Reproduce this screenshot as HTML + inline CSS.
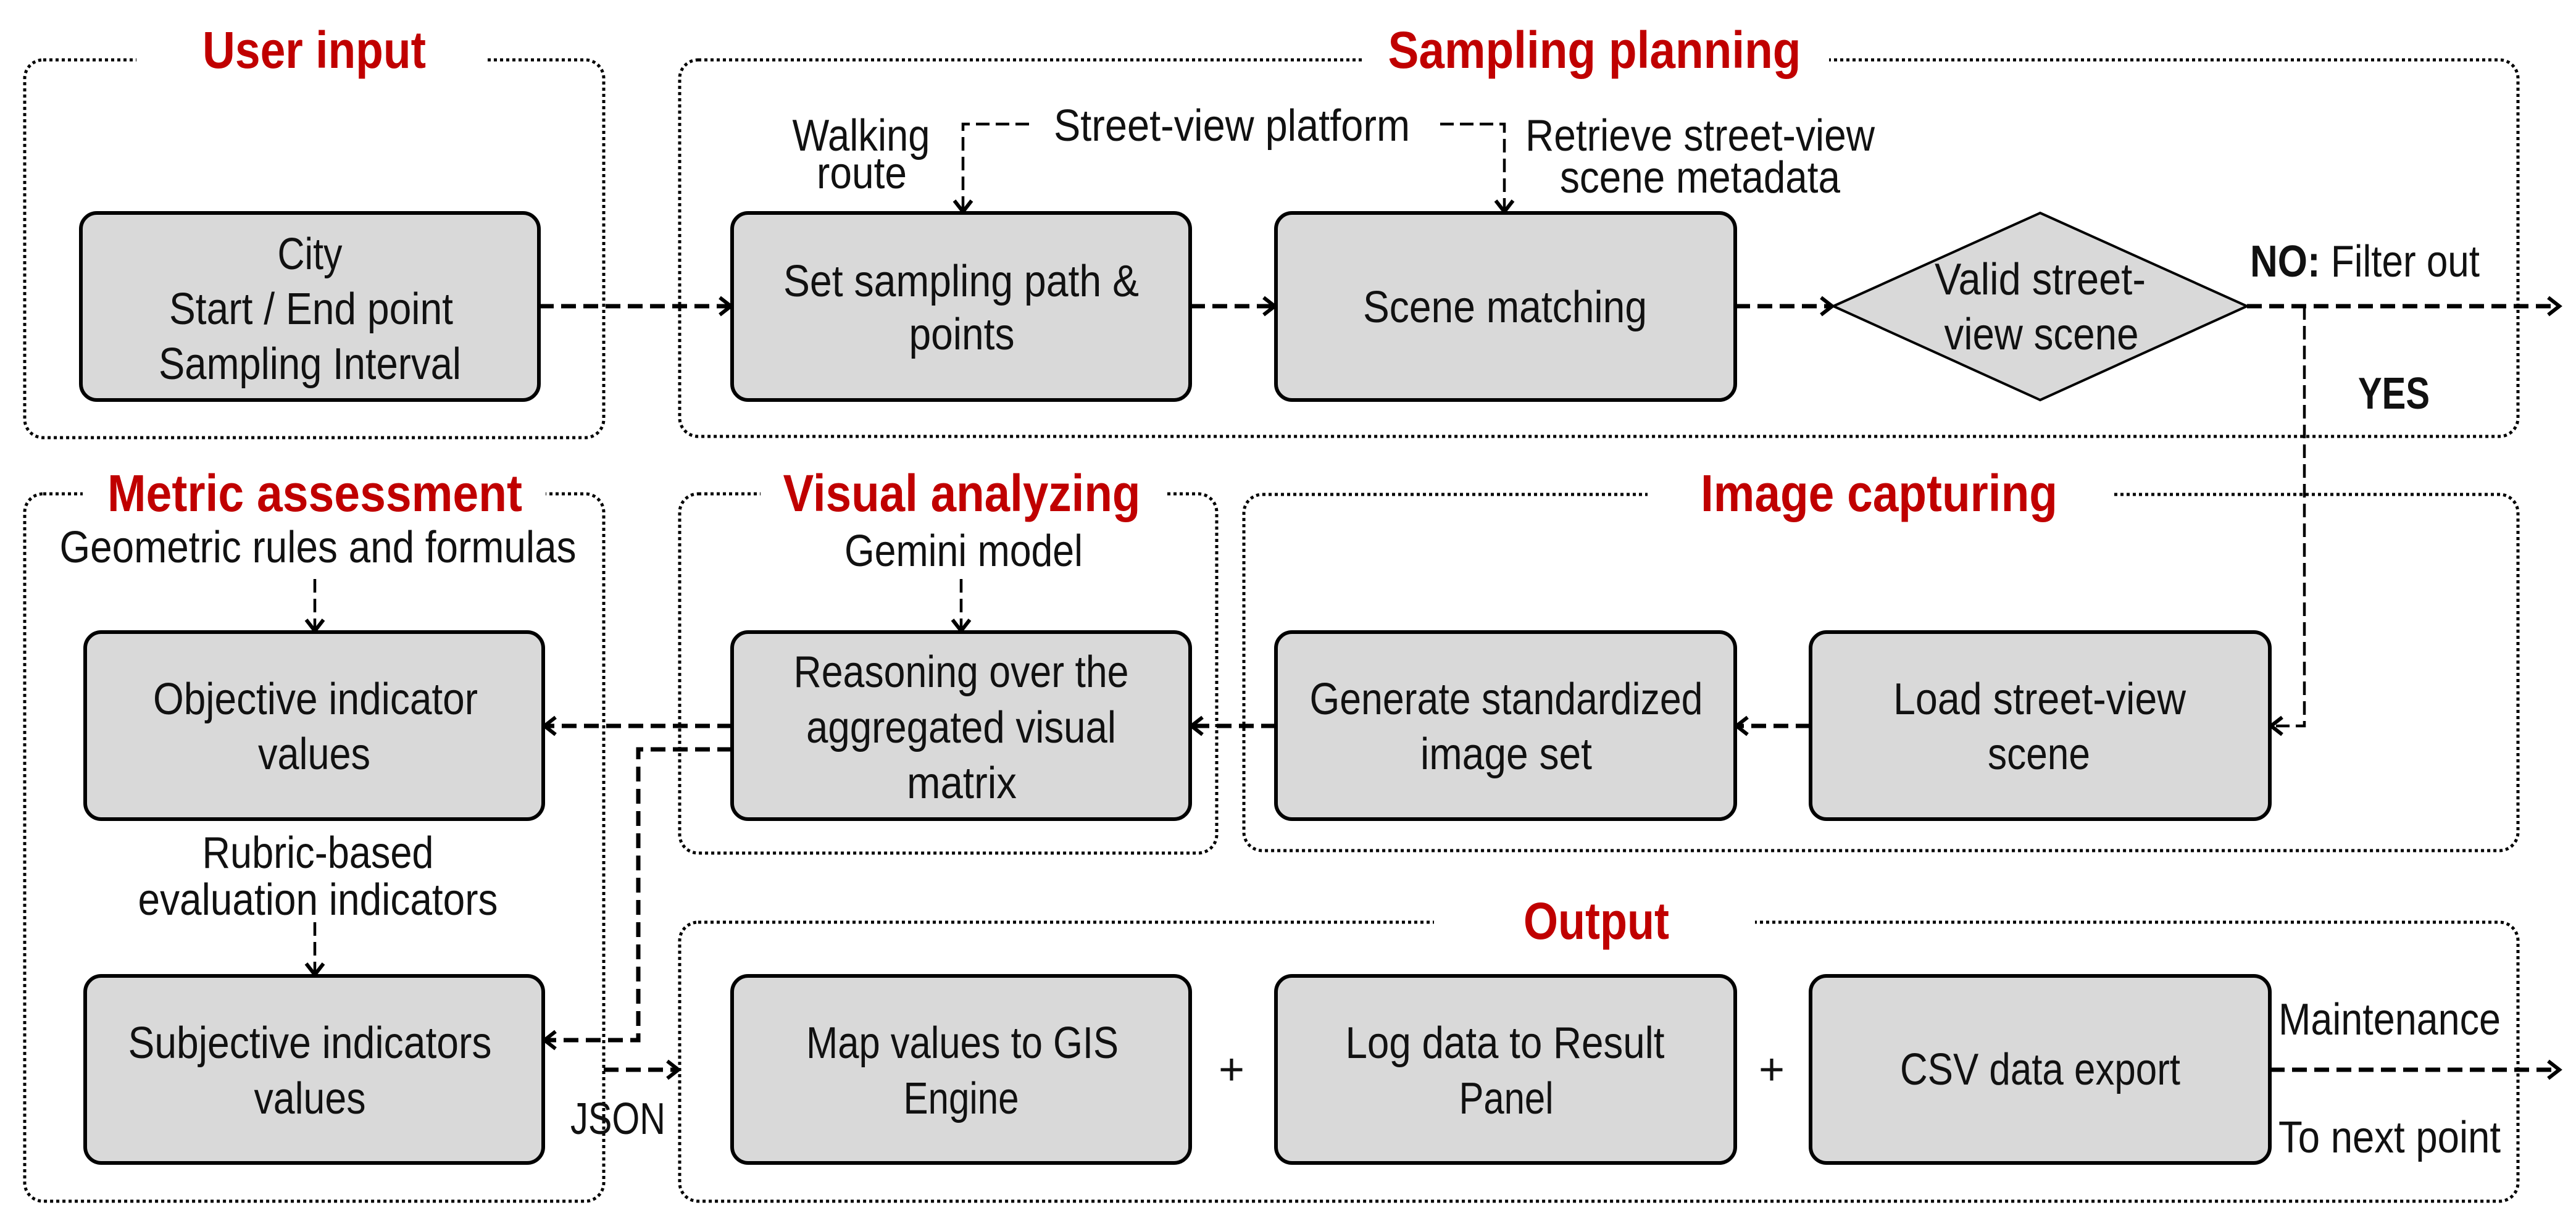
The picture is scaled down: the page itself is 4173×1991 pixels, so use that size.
<!DOCTYPE html>
<html><head><meta charset="utf-8"><style>
html,body{margin:0;padding:0;background:#fff;}
svg{display:block;}
text{font-family:"Liberation Sans",Arial,sans-serif;fill:#111;}
.t{font-size:72px;}
.h{font-size:84px;font-weight:bold;fill:#c00000;}
.box{fill:#d9d9d9;stroke:#000;stroke-width:6;}
.fr{fill:none;stroke:#000;stroke-width:5;stroke-dasharray:5 5;}
.c{fill:none;stroke:#000;stroke-width:7;stroke-dasharray:24 12;}
.c2{fill:none;stroke:#000;stroke-width:4.5;stroke-dasharray:22 10;}
.wb{fill:#fff;}
</style></head><body>
<svg width="4173" height="1991" viewBox="0 0 4173 1991" xmlns="http://www.w3.org/2000/svg">
<defs>
<marker id="a" markerUnits="userSpaceOnUse" markerWidth="40" markerHeight="40" refX="30" refY="20" orient="auto">
<path d="M12,6 L30,20 L12,34" fill="none" stroke="#000" stroke-width="6"/>
</marker>
</defs>
<rect width="4173" height="1991" fill="#fff"/>

<!-- frames -->
<rect class="fr" x="40" y="97" width="938" height="612" rx="30"/>
<rect class="fr" x="1101" y="97" width="2978" height="610" rx="30"/>
<rect class="fr" x="40" y="800" width="938" height="1146" rx="30"/>
<rect class="fr" x="1101" y="800" width="870" height="582" rx="30"/>
<rect class="fr" x="2015" y="801" width="2064" height="577" rx="30"/>
<rect class="fr" x="1101" y="1494" width="2978" height="452" rx="30"/>

<!-- title gaps -->
<rect class="wb" x="221" y="80" width="569" height="40"/>
<rect class="wb" x="2208" y="80" width="755" height="40"/>
<rect class="wb" x="134" y="780" width="750" height="40"/>
<rect class="wb" x="1232" y="780" width="656" height="40"/>
<rect class="wb" x="2669" y="780" width="752" height="40"/>
<rect class="wb" x="2323" y="1475" width="520" height="40"/>

<!-- titles -->
<text class="h" x="509" y="110" text-anchor="middle" textLength="362" lengthAdjust="spacingAndGlyphs">User input</text>
<text class="h" x="2583" y="110" text-anchor="middle" textLength="669" lengthAdjust="spacingAndGlyphs">Sampling planning</text>
<text class="h" x="510" y="828" text-anchor="middle" textLength="672" lengthAdjust="spacingAndGlyphs">Metric assessment</text>
<text class="h" x="1558" y="828" text-anchor="middle" textLength="579" lengthAdjust="spacingAndGlyphs">Visual analyzing</text>
<text class="h" x="3044" y="828" text-anchor="middle" textLength="578" lengthAdjust="spacingAndGlyphs">Image capturing</text>
<text class="h" x="2586" y="1521" text-anchor="middle" textLength="236" lengthAdjust="spacingAndGlyphs">Output</text>

<!-- boxes -->
<rect class="box" x="131" y="345" width="742" height="303" rx="26"/>
<rect class="box" x="1186" y="345" width="742" height="303" rx="26"/>
<rect class="box" x="2067" y="345" width="744" height="303" rx="26"/>
<polygon class="box" points="2970,496 3305,345 3640,496 3305,648" style="stroke-width:4"/>
<rect class="box" x="138" y="1024" width="742" height="303" rx="26"/>
<rect class="box" x="1186" y="1024" width="742" height="303" rx="26"/>
<rect class="box" x="2067" y="1024" width="744" height="303" rx="26"/>
<rect class="box" x="2933" y="1024" width="744" height="303" rx="26"/>
<rect class="box" x="138" y="1581" width="742" height="303" rx="26"/>
<rect class="box" x="1186" y="1581" width="742" height="303" rx="26"/>
<rect class="box" x="2067" y="1581" width="744" height="303" rx="26"/>
<rect class="box" x="2933" y="1581" width="744" height="303" rx="26"/>

<!-- connectors -->
<path class="c" d="M873,496 H1184" marker-end="url(#a)"/>
<path class="c" d="M1928,496 H2065" marker-end="url(#a)"/>
<path class="c" d="M2811,496 H2968" marker-end="url(#a)"/>
<path class="c" d="M3640,496 H4146" marker-end="url(#a)"/>
<path class="c2" d="M3733,496 V1176 H3679" marker-end="url(#a)"/>
<path class="c" d="M2933,1176 H2813" marker-end="url(#a)"/>
<path class="c" d="M2067,1176 H1930" marker-end="url(#a)"/>
<path class="c" d="M1186,1176 H882" marker-end="url(#a)"/>
<path class="c" d="M1186,1214 H1034 V1685 H882" marker-end="url(#a)"/>
<path class="c" d="M978,1733 H1099" marker-end="url(#a)"/>
<path class="c" d="M3677,1733 H4146" marker-end="url(#a)"/>
<path class="c2" d="M1667,201 H1560 V343" marker-end="url(#a)"/>
<path class="c2" d="M2333,201 H2437 V343" marker-end="url(#a)"/>
<path class="c2" d="M510,938 V1022" marker-end="url(#a)"/>
<path class="c2" d="M1557,938 V1022" marker-end="url(#a)"/>
<path class="c2" d="M510,1494 V1579" marker-end="url(#a)"/>

<!-- box texts -->
<text class="t" x="502" y="436" text-anchor="middle" textLength="105" lengthAdjust="spacingAndGlyphs">City</text>
<text class="t" x="504" y="525" text-anchor="middle" textLength="460" lengthAdjust="spacingAndGlyphs">Start / End point</text>
<text class="t" x="502" y="614" text-anchor="middle" textLength="490" lengthAdjust="spacingAndGlyphs">Sampling Interval</text>

<text class="t" x="1557" y="480" text-anchor="middle" textLength="576" lengthAdjust="spacingAndGlyphs">Set sampling path &amp;</text>
<text class="t" x="1558" y="566" text-anchor="middle" textLength="171" lengthAdjust="spacingAndGlyphs">points</text>

<text class="t" x="2438" y="522" text-anchor="middle" textLength="460" lengthAdjust="spacingAndGlyphs">Scene matching</text>

<text class="t" x="3305" y="477" text-anchor="middle" textLength="342" lengthAdjust="spacingAndGlyphs">Valid street-</text>
<text class="t" x="3307" y="566" text-anchor="middle" textLength="315" lengthAdjust="spacingAndGlyphs">view scene</text>

<text class="t" x="1395" y="244" text-anchor="middle" textLength="223" lengthAdjust="spacingAndGlyphs">Walking</text>
<text class="t" x="1396" y="305" text-anchor="middle" textLength="146" lengthAdjust="spacingAndGlyphs">route</text>
<text class="t" x="1707" y="228" textLength="577" lengthAdjust="spacingAndGlyphs">Street-view platform</text>
<text class="t" x="2471" y="244" textLength="566" lengthAdjust="spacingAndGlyphs">Retrieve street-view</text>
<text class="t" x="2527" y="312" textLength="454" lengthAdjust="spacingAndGlyphs">scene metadata</text>

<text class="t" x="3645" y="448" textLength="372" lengthAdjust="spacingAndGlyphs"><tspan font-weight="bold">NO:</tspan> Filter out</text>
<text class="t" x="3820" y="662" font-weight="bold" textLength="116" lengthAdjust="spacingAndGlyphs">YES</text>

<text class="t" x="515" y="911" text-anchor="middle" textLength="837" lengthAdjust="spacingAndGlyphs">Geometric rules and formulas</text>
<text class="t" x="1561" y="917" text-anchor="middle" textLength="386" lengthAdjust="spacingAndGlyphs">Gemini model</text>

<text class="t" x="511" y="1157" text-anchor="middle" textLength="526" lengthAdjust="spacingAndGlyphs">Objective indicator</text>
<text class="t" x="509" y="1246" text-anchor="middle" textLength="182" lengthAdjust="spacingAndGlyphs">values</text>

<text class="t" x="1557" y="1113" text-anchor="middle" textLength="543" lengthAdjust="spacingAndGlyphs">Reasoning over the</text>
<text class="t" x="1557" y="1203" text-anchor="middle" textLength="502" lengthAdjust="spacingAndGlyphs">aggregated visual</text>
<text class="t" x="1558" y="1293" text-anchor="middle" textLength="178" lengthAdjust="spacingAndGlyphs">matrix</text>

<text class="t" x="2440" y="1157" text-anchor="middle" textLength="637" lengthAdjust="spacingAndGlyphs">Generate standardized</text>
<text class="t" x="2440" y="1246" text-anchor="middle" textLength="278" lengthAdjust="spacingAndGlyphs">image set</text>

<text class="t" x="3304" y="1157" text-anchor="middle" textLength="474" lengthAdjust="spacingAndGlyphs">Load street-view</text>
<text class="t" x="3303" y="1246" text-anchor="middle" textLength="166" lengthAdjust="spacingAndGlyphs">scene</text>

<text class="t" x="515" y="1406" text-anchor="middle" textLength="375" lengthAdjust="spacingAndGlyphs">Rubric-based</text>
<text class="t" x="515" y="1482" text-anchor="middle" textLength="583" lengthAdjust="spacingAndGlyphs">evaluation indicators</text>

<text class="t" x="502" y="1714" text-anchor="middle" textLength="589" lengthAdjust="spacingAndGlyphs">Subjective indicators</text>
<text class="t" x="502" y="1804" text-anchor="middle" textLength="181" lengthAdjust="spacingAndGlyphs">values</text>

<text class="t" x="1559" y="1714" text-anchor="middle" textLength="506" lengthAdjust="spacingAndGlyphs">Map values to GIS</text>
<text class="t" x="1557" y="1804" text-anchor="middle" textLength="187" lengthAdjust="spacingAndGlyphs">Engine</text>

<text class="t" x="2438" y="1714" text-anchor="middle" textLength="517" lengthAdjust="spacingAndGlyphs">Log data to Result</text>
<text class="t" x="2440" y="1804" text-anchor="middle" textLength="153" lengthAdjust="spacingAndGlyphs">Panel</text>

<text class="t" x="3305" y="1757" text-anchor="middle" textLength="454" lengthAdjust="spacingAndGlyphs">CSV data export</text>

<text class="t" x="1995" y="1757" text-anchor="middle">+</text>
<text class="t" x="2870" y="1757" text-anchor="middle">+</text>

<text class="t" x="924" y="1837" textLength="154" lengthAdjust="spacingAndGlyphs">JSON</text>
<text class="t" x="3691" y="1676" textLength="360" lengthAdjust="spacingAndGlyphs">Maintenance</text>
<text class="t" x="3691" y="1867" textLength="360" lengthAdjust="spacingAndGlyphs">To next point</text>
</svg>
</body></html>
